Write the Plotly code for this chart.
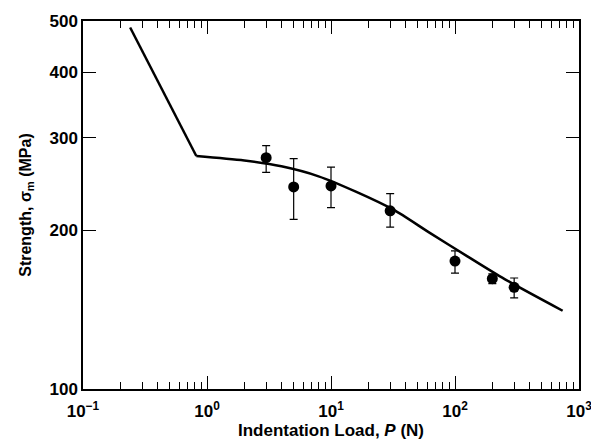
import plotly.graph_objects as go
import numpy as np

# Data points (indentation load P in N, strength in MPa)
load = [3, 5, 10, 30, 100, 200, 300]
strength = [275, 242, 243, 218, 175, 162, 156]
err_plus = [15, 32, 21, 17, 8, 3.5, 6.5]
err_minus = [17, 32, 22, 15, 9, 3.5, 7]

# Theoretical curve: steep branch and flaw-controlled branch
steep_load = [0.24, 0.82]
steep_strength = [486, 277]
curve_load = [0.82, 2.0, 3.98, 7.94, 15.85, 31.6, 63.1, 125.9, 251.2, 738]
curve_strength = [277, 271.6, 264.8, 253.5, 237.1, 219.3, 197.7, 178.6, 161.7, 140.8]

x_tickvals = [0.1, 1, 10, 100, 1000]
x_ticktext = ["10<sup>−1</sup>", "10<sup>0</sup>", "10<sup>1</sup>", "10<sup>2</sup>", "10<sup>3</sup>"]
y_tickvals = [100, 200, 300, 400, 500]

font_family = "Liberation Sans, Arial, sans-serif"

fig = go.Figure()
fig.add_trace(go.Scatter(
    x=steep_load, y=steep_strength, mode="lines",
    line=dict(color="black", width=2.5),
    showlegend=False, hoverinfo="skip"))
fig.add_trace(go.Scatter(
    x=curve_load, y=curve_strength, mode="lines",
    line=dict(color="black", width=2.5, shape="spline", smoothing=0.8),
    showlegend=False, hoverinfo="skip"))
fig.add_trace(go.Scatter(
    x=load, y=strength, mode="markers",
    marker=dict(color="black", size=11),
    error_y=dict(type="data", array=err_plus, arrayminus=err_minus,
                 color="black", thickness=1.2, width=4),
    showlegend=False))

# page body has an 8px offset, margins compensate so the plot area matches
fig.update_layout(
    width=599, height=442,
    margin=dict(l=75, r=28, t=13, b=61),
    plot_bgcolor="white", paper_bgcolor="white",
    font=dict(family=font_family, color="black", size=17),
)
fig.update_xaxes(
    type="log", range=[-1, 3], automargin=False,
    tickvals=x_tickvals, ticktext=["<b>%s</b>" % t for t in x_ticktext],
    ticks="inside", ticklen=13, tickwidth=1.2, tickcolor="black",
    ticklabelstandoff=6,
    minor=dict(ticks="inside", ticklen=7, tickwidth=1, tickcolor="black", dtick="D1", showgrid=False),
    showline=True, linecolor="black", linewidth=1.5, mirror="ticks",
    showgrid=False, zeroline=False,
    tickfont=dict(size=17, family=font_family),
    title=dict(text="<b>Indentation Load, <i>P</i> (N)</b>", font=dict(size=17), standoff=4),
)
fig.update_yaxes(
    type="log", range=[2, np.log10(500)], automargin=False,
    tickvals=y_tickvals, ticktext=["<b>%d</b>" % v for v in y_tickvals],
    ticks="inside", ticklen=13, tickwidth=1.2, tickcolor="black",
    showline=True, linecolor="black", linewidth=1.5, mirror="ticks",
    showgrid=False, zeroline=False,
    tickfont=dict(size=17, family=font_family),
    title=dict(text="<b>Strength, σ<sub>m</sub> (MPa)</b>", font=dict(size=16), standoff=14),
)

fig.write_html("out.html")
